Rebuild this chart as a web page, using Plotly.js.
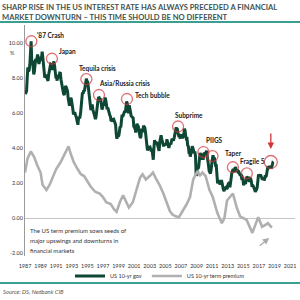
<!DOCTYPE html>
<html><head><meta charset="utf-8">
<script src="https://cdn.plot.ly/plotly-3.0.1.min.js"></script>
<style>html,body{margin:0;padding:0;background:#fff;}#chart{width:300px;height:300px;}</style>
</head><body><div id="chart"></div>
<script>
// ---- DATA ----
const titleLine1 = 'SHARP RISE IN THE US INTEREST RATE HAS ALWAYS PRECEDED A FINANCIAL';
const titleLine2 = 'MARKET DOWNTURN \u2013 THIS TIME SHOULD BE NO DIFFERENT';
const sourceText = 'Source: DS, Nedbank CIB';
const noteText = ['The US term premium sows seeds of', 'major upswings and downturns in', 'financial markets'];
const seriesNames = ['US 10-yr gov', 'US 10-yr term premium'];

const govStartYear = 1987; // monthly values from January 1987
const govYields = [
  7.08,7.25,7.25,8.02,8.61,8.40,8.45,8.76,9.42,10.1,8.86,8.99,
  8.67,8.21,8.37,8.72,9.09,8.92,9.06,9.35,8.98,8.80,8.96,9.11,
  9.09,9.17,9.50,9.18,8.86,8.28,8.02,8.11,8.19,8.01,7.87,7.84,
  8.21,8.47,8.59,8.79,8.76,8.48,8.47,8.75,8.95,8.72,8.39,8.08,
  8.09,7.85,8.11,8.04,8.07,8.28,8.27,7.90,7.65,7.53,7.42,7.09,
  7.03,7.34,7.54,7.48,7.39,7.26,6.84,6.59,6.42,6.59,6.87,6.77,
  6.60,6.26,5.98,5.97,6.04,5.96,5.81,5.68,5.36,5.33,5.72,5.77,
  5.75,5.97,6.48,6.97,7.18,7.10,7.30,7.24,7.46,7.74,7.96,7.81,
  7.78,7.47,7.20,7.06,6.63,6.17,6.28,6.49,6.20,6.04,5.93,5.71,
  5.65,5.81,6.27,6.51,6.74,6.91,6.87,6.64,6.83,6.53,6.20,6.30,
  6.58,6.42,6.69,6.89,6.71,6.49,6.22,6.30,6.21,6.03,5.88,5.81,
  5.54,5.57,5.65,5.64,5.65,5.50,5.46,5.34,4.81,4.53,4.83,4.65,
  4.72,5.00,5.23,5.18,5.54,5.90,5.79,5.94,5.92,6.11,6.03,6.28,
  6.66,6.52,6.26,5.99,6.44,6.10,6.05,5.83,5.80,5.74,5.72,5.24,
  5.16,5.10,4.89,5.14,5.39,5.28,5.24,4.97,4.73,4.57,4.65,5.09,
  5.04,4.91,5.28,5.21,5.16,4.93,4.65,4.26,3.87,3.94,4.05,4.03,
  4.05,3.90,3.81,3.96,3.57,3.33,3.98,4.45,4.27,4.29,4.30,4.27,
  4.15,4.08,3.83,4.35,4.72,4.73,4.50,4.28,4.13,4.10,4.19,4.23,
  4.22,4.17,4.50,4.34,4.14,4.00,4.18,4.26,4.20,4.46,4.54,4.47,
  4.42,4.57,4.72,4.99,5.11,5.11,5.09,4.88,4.72,4.73,4.60,4.56,
  4.76,4.72,4.56,4.69,4.75,5.10,5.00,4.67,4.52,4.53,4.15,4.10,
  3.74,3.74,3.51,3.68,3.88,4.10,4.01,3.89,3.69,3.81,3.53,2.42,
  2.52,2.87,2.82,2.93,3.29,3.72,3.56,3.59,3.40,3.39,3.40,3.59,
  3.73,3.69,3.73,3.85,3.42,3.20,3.01,2.70,2.65,2.54,2.76,3.29,
  3.39,3.58,3.41,3.46,3.17,3.00,3.00,2.30,1.98,2.15,2.01,1.98,
  1.97,1.97,2.17,2.05,1.80,1.62,1.53,1.68,1.72,1.75,1.65,1.72,
  1.91,1.98,1.96,1.76,1.93,2.30,2.58,2.74,2.81,2.62,2.72,2.90,
  2.86,2.71,2.72,2.71,2.56,2.60,2.54,2.42,2.53,2.30,2.33,2.21,
  1.88,1.98,2.04,1.94,2.20,2.36,2.32,2.17,2.17,2.07,2.26,2.24,
  2.09,1.78,1.89,1.81,1.81,1.64,1.50,1.56,1.63,1.76,2.14,2.49,
  2.43,2.42,2.48,2.30,2.30,2.19,2.32,2.21,2.20,2.36,2.35,2.40,
  2.58,2.86,2.84,2.87,2.98,2.91,2.89,2.89,3.00,3.15,3.12
];

const tpDates = ['1987-01','1987-05','1987-10','1988-03','1988-08','1989-01','1989-04','1989-10',
  '1990-03','1990-08','1991-01','1991-08','1992-03','1992-08','1992-12','1993-04','1993-10',
  '1994-03','1994-08','1995-01','1995-06','1996-01','1996-08','1997-01','1997-06','1998-01',
  '1998-06','1998-10','1999-03','1999-08','1999-12','2000-05','2000-11','2001-04','2001-10',
  '2002-02','2002-07','2003-01','2003-06','2003-10','2004-04','2004-10','2005-03','2005-08',
  '2005-12','2006-05','2006-10','2007-04','2007-10','2008-03','2008-08','2008-12','2009-03',
  '2009-06','2009-10','2010-03','2010-09','2011-02','2011-09','2012-04','2012-08','2012-12',
  '2013-09','2014-03','2014-08','2015-06','2015-11','2016-03','2016-12','2017-06','2018-03','2018-09'];
const tpValues = [2.6,3.4,3.8,3.5,3.0,2.6,1.9,1.6,
  1.9,2.3,2.8,3.2,3.7,4.1,3.6,3.2,2.8,
  2.5,2.4,2.1,1.8,1.5,1.4,1.2,0.9,0.8,
  0.5,0.35,0.9,1.3,1.0,0.6,0.9,1.5,2.3,
  2.5,2.2,2.4,2.6,2.3,1.9,1.4,0.9,0.4,
  0.2,0.1,0.05,0.4,0.8,1.2,2.2,2.5,2.7,
  2.4,2.6,2.4,1.6,1.2,0.3,-0.3,0.0,1.0,
  1.4,0.6,0.1,-0.1,-0.5,-0.85,0.05,-0.5,-0.3,-0.55];

const eventLabels = ["'87 Crash",'Japan','Tequila crisis','Asia/Russia crisis','Tech bubble','Subprime','PIIGS','','Taper','Fragile 5',''];
const eventDates = ['1987-10-25','1990-06-15','1994-11-15','1996-06-28','2000-01-30','2006-08-20','2009-11-20','2011-01-20','2013-09-01','2015-06-15','2018-07-15'];
const eventValues = [10.1, 9.1, 7.94, 7.03, 6.8, 5.23, 3.77, 3.54, 2.9, 2.55, 3.2];

const yTicks = [-2, 0, 2, 4, 6, 8, 10];
const xTickYears = [1987,1989,1991,1993,1995,1997,1999,2001,2003,2005,2007,2009,2011,2013,2015,2017,2019,2021];

// ---- BUILD ----
const govDates = govYields.map((_, i) => {
  const y = govStartYear + Math.floor(i / 12);
  const m = (i % 12) + 1;
  return y + '-' + String(m).padStart(2, '0') + '-15';
});

const FONT = 'Lato, "Open Sans", sans-serif';
const GREEN = '#0e4733';
const GREY = '#b0b0b0';
const TEAL = '#3a9e92';
const RED = '#d2343a';

const L = 25, R = 5, T = 25, B = 44, W = 300, H = 300;
const pw = W - L - R, ph = H - T - B;
const px = x => (x - L) / pw;      // pixel x -> paper
const py = y => (H - B - y) / ph;  // pixel y -> paper

const traces = [
  { x: govDates, y: govYields, type: 'scatter', mode: 'lines', name: seriesNames[0],
    line: { color: GREEN, width: 3 } },
  { x: tpDates, y: tpValues, type: 'scatter', mode: 'lines', name: seriesNames[1],
    line: { color: GREY, width: 2.6 } },
  { x: eventDates, y: eventValues, type: 'scatter', mode: 'markers', showlegend: false,
    marker: { symbol: 'circle-open', size: eventDates.map((d, i) => i === eventDates.length - 1 ? 13 : 11),
      color: RED, line: { width: 1.3, color: RED } } }
];

// label offsets (pixels) relative to each circle
const labelShift = [[3.5, 6], [5, 7.5], [-9, 11], [-2, 11.5], [6, 4], [-5.5, 11.5], [1, 12], [0, 0], [-10, 13.5], [-9, 11.5], [0, 0]];

const annotations = [];
eventLabels.forEach((t, i) => {
  if (!t) return;
  annotations.push({ x: eventDates[i], y: eventValues[i], xref: 'x', yref: 'y', text: '<b>' + t + '</b>', showarrow: false,
    xanchor: 'left', yanchor: 'middle', xshift: labelShift[i][0], yshift: labelShift[i][1],
    font: { family: FONT, size: 6.5, color: '#1a1a1a' } });
});
// title lines
annotations.push({ xref: 'paper', yref: 'paper', x: px(0), y: py(7), xanchor: 'left', yanchor: 'middle', showarrow: false,
  text: '<b>' + titleLine1 + '</b>', font: { family: FONT, size: 7.6, color: '#3f5352' } });
annotations.push({ xref: 'paper', yref: 'paper', x: px(0), y: py(17), xanchor: 'left', yanchor: 'middle', showarrow: false,
  text: '<b>' + titleLine2 + '</b>', font: { family: FONT, size: 7.6, color: '#3f5352' } });
// % unit
annotations.push({ xref: 'paper', yref: 'paper', x: px(12), y: py(53), xanchor: 'center', yanchor: 'middle', showarrow: false,
  text: '%', font: { family: FONT, size: 5.5, color: '#444' } });
// note text
noteText.forEach((t, i) => annotations.push({ xref: 'paper', yref: 'paper', x: px(28), y: py(230 + i * 10),
  xanchor: 'left', yanchor: 'middle', showarrow: false, text: t, font: { family: FONT, size: 6, color: '#333' } }));
// source
annotations.push({ xref: 'paper', yref: 'paper', x: px(1), y: py(291), xanchor: 'left', yanchor: 'middle', showarrow: false,
  text: '<i>' + sourceText + '</i>', font: { family: FONT, size: 5.8, color: '#555' } });
// red arrow
annotations.push({ x: eventDates[eventDates.length - 1], y: eventValues[eventValues.length - 1], xref: 'x', yref: 'y',
  yshift: 13, text: '', showarrow: true, ax: 0, ay: -17, arrowhead: 2, arrowsize: 1, arrowwidth: 1.3, arrowcolor: RED });
// grey arrow
annotations.push({ x: '2018-05-01', y: -1.14, xref: 'x', yref: 'y', text: '', showarrow: true, ax: -11, ay: 9,
  arrowhead: 2, arrowsize: 1, arrowwidth: 1.3, arrowcolor: '#aaaaaa' });

const layout = {
  width: W, height: H, margin: { l: L, r: R, t: T, b: B, pad: 0 },
  paper_bgcolor: '#fff', plot_bgcolor: '#fff',
  font: { family: FONT, size: 5.5, color: '#444' },
  showlegend: true,
  legend: { orientation: 'h', x: 0.5, xanchor: 'center', y: py(276), yanchor: 'middle',
    font: { family: FONT, size: 5.5, color: '#333' }, itemwidth: 30, tracegroupgap: 0, bgcolor: 'rgba(0,0,0,0)' },
  xaxis: { type: 'date', range: ['1987-01-01', '2021-08-20'], showgrid: false, showline: false, zeroline: false,
    tickvals: xTickYears.map(y => y + '-01-01'), ticktext: xTickYears.map(String),
    ticks: 'outside', ticklen: 4, tickcolor: 'rgba(0,0,0,0)', tickfont: { family: FONT, size: 5.5, color: '#333' } },
  yaxis: { range: [-2.17, 11.03], showgrid: false, showline: true, linecolor: '#9a9a9a', linewidth: 1,
    zeroline: true, zerolinecolor: '#c4c4c4', zerolinewidth: 1,
    tickvals: yTicks, ticktext: yTicks.map(v => v.toFixed(2)), ticks: '',
    tickfont: { family: FONT, size: 5.5, color: '#333' } },
  shapes: [
    { type: 'line', xref: 'paper', yref: 'paper', x0: px(0), x1: px(300), y0: py(22), y1: py(22), line: { color: TEAL, width: 2 } },
    { type: 'line', xref: 'paper', yref: 'paper', x0: px(0), x1: px(300), y0: py(283), y1: py(283), line: { color: TEAL, width: 2 } }
  ],
  annotations: annotations
};

Plotly.newPlot('chart', traces, layout, { staticPlot: true, displayModeBar: false });
</script>
</body></html>
